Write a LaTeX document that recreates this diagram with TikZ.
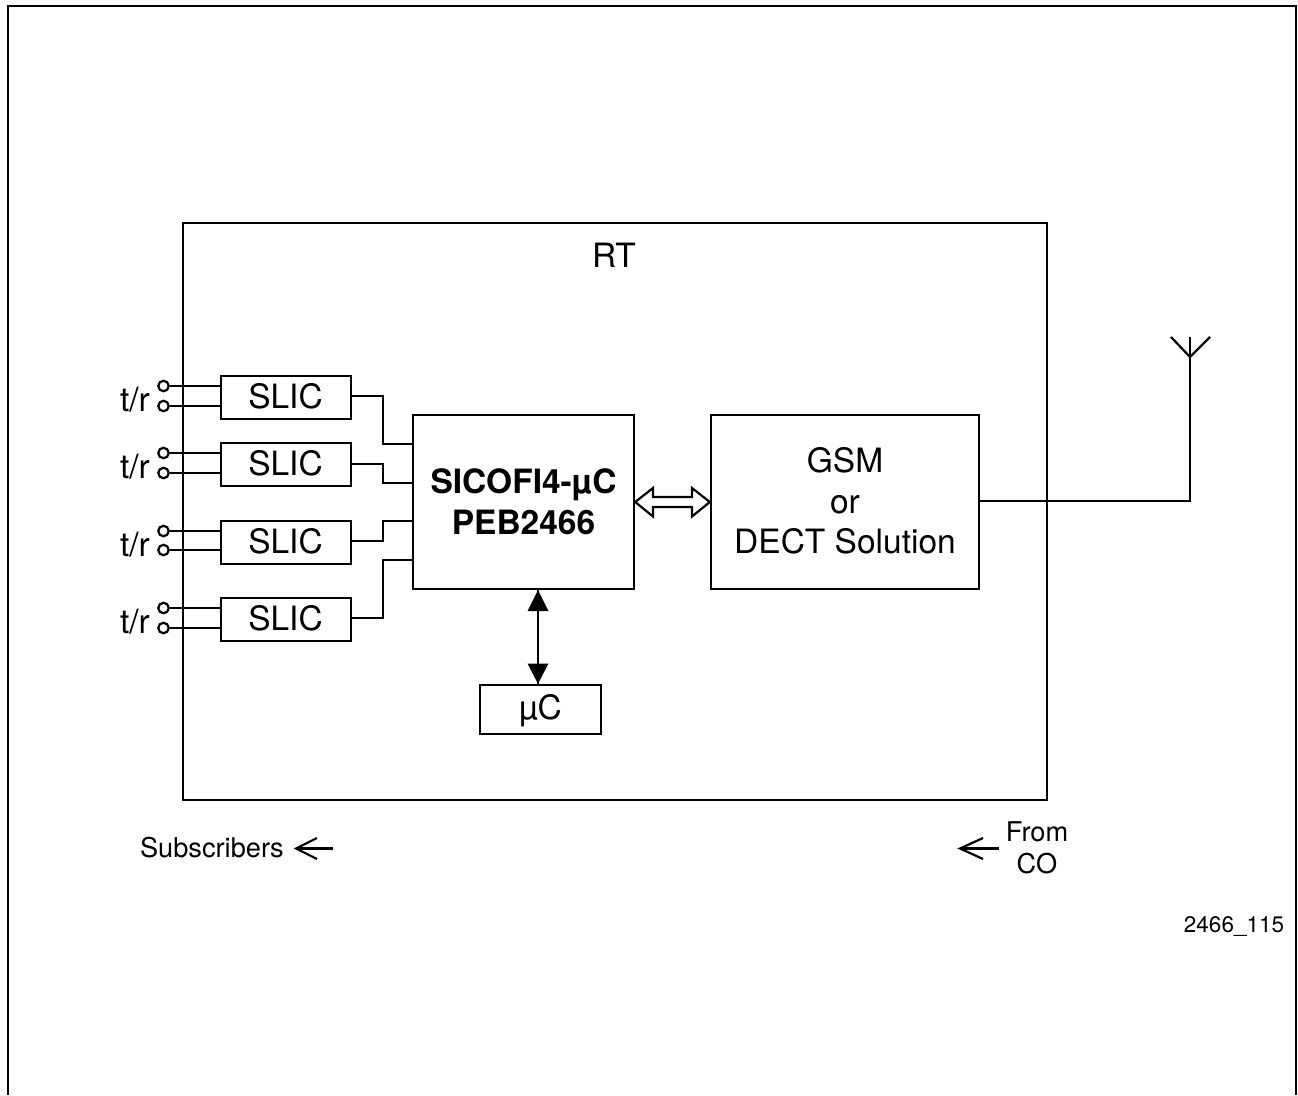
\documentclass[tikz,border=0pt]{standalone}
\usepackage{fontspec}
\setmainfont{TeX Gyre Heros}
\tikzset{
  x=1pt,y=-1pt,
  ln/.style={draw=black,line width=2.4pt,line join=miter},
  wire/.style={draw=black,line width=2.2pt,line join=miter},
  outl/.style={draw=black,line width=2.4pt,inner sep=0pt,align=center},
  txtbig/.style={inner sep=0pt,align=center,font=\fontsize{33.5}{40.5}\selectfont},
  small/.style={inner sep=0pt,align=center,font=\fontsize{27.2}{32}\selectfont},
  term/.style={circle,draw=black,line width=2.2pt,fill=white,minimum size=10.5pt,inner sep=0pt},
}
\begin{document}
\begin{tikzpicture}
\useasboundingbox (0,0) rectangle (1298,1095);
\coordinate (o1) at (8,1095);
\coordinate (o2) at (8,6);
\coordinate (o3) at (1296,6);
\coordinate (o4) at (1296,1095);
\draw[ln] (o1)--(o2)--(o3)--(o4);
\node[outl,minimum width=864pt,minimum height=577pt] (rt) at (615,511.5) {};
\node[txtbig] (rtl) at (614,255) {RT};
\node[outl,minimum width=221pt,minimum height=174pt,font=\fontsize{33.5}{41}\bfseries\selectfont] (sic) at (523.5,502) {\raisebox{0.8pt}{SICOFI4-µC}\\\raisebox{0.8pt}{PEB2466}};
\node[outl,minimum width=268pt,minimum height=174pt] (gsm) at (845,502) {};
\node[txtbig] (gsmt) at (845,501) {GSM\\or\\DECT Solution};
\node[outl,minimum width=121pt,minimum height=49pt] (uc) at (540.5,709.5) {};
\node[txtbig] (uct) at (540.5,710.5) {µC};
\foreach \n/\y/\yt in {a/397.5/396,b/464.5/463,c/542.5/541,d/619.5/618}{
  \node[outl,minimum width=130pt,minimum height=43pt] (s\n) at (286,\y) {};
  \node[txtbig] (st\n) at (285.5,\yt) {SLIC};
}
\foreach \n/\y/\ya/\yb in {a/400/386/406,b/467/453/473,c/545/531/550,d/622/608/628}{
  \node[term] (t1\n) at (163.5,\ya) {};
  \node[term] (t2\n) at (163.5,\yb) {};
  \node[txtbig] (l\n) at (135,\y) {t/r};
  \draw[wire] (t1\n.east) -- (t1\n.east -| s\n.west);
  \draw[wire] (t2\n.east) -- (t2\n.east -| s\n.west);
}
\draw[wire] (sa.east |- 0,396) -- (383,396) -- (383,444) -- (sic.west |- 0,444);
\draw[wire] (sb.east |- 0,464) -- (383,464) -- (383,483) -- (sic.west |- 0,483);
\draw[wire] (sc.east |- 0,541) -- (383,541) -- (383,521) -- (sic.west |- 0,521);
\draw[wire] (sd.east |- 0,618) -- (383,618) -- (383,560) -- (sic.west |- 0,560);
% bus arrow
\coordinate (bl) at (sic.east |- 0,502);
\coordinate (br) at (gsm.west |- 0,502);
\draw[line width=2.2pt,fill=white,line join=miter]
  (bl) -- (653,488) -- (653,497) -- (692,497) -- (692,488) -- (br) -- (692,516.5) -- (692,507) -- (653,507) -- (653,516.5) -- cycle;
% uC arrow
\coordinate (ua) at (sic.south -| 538,0);
\coordinate (ub) at (uc.north -| 538,0);
\draw[wire] (ua) -- (ub);
\fill[black] (ua) -- (548.5,611) -- (527.5,611) -- cycle;
\fill[black] (ub) -- (548.5,663.5) -- (527.5,663.5) -- cycle;
% antenna
\coordinate (ant) at (1190,501);
\coordinate (anttop) at (1190,337);
\coordinate (antm) at (1190,357);
\draw[wire] (gsm.east |- ant) -- (ant) -- (anttop);
\draw[wire] (1171,337) -- (antm) -- (1210,337);
% bottom
\node[small,anchor=east] (sub) at (284,848) {Subscribers};
\coordinate (a1s) at (333,848.5);
\coordinate (a1e) at (296,848.5);
\draw[wire] (a1s) -- (a1e);
\draw[wire] (317,838) -- (a1e) -- (317,859);
\node[small] (from) at (1037,848) {From\\CO};
\coordinate (a2s) at (999,848.5);
\coordinate (a2e) at (960,848.5);
\draw[wire] (a2s) -- (a2e);
\draw[wire] (983,838) -- (a2e) -- (983,859);
\node[inner sep=0pt,font=\fontsize{22.5}{26}\selectfont] (id) at (1234,926.5) {2466\_115};
\end{tikzpicture}
\end{document}
